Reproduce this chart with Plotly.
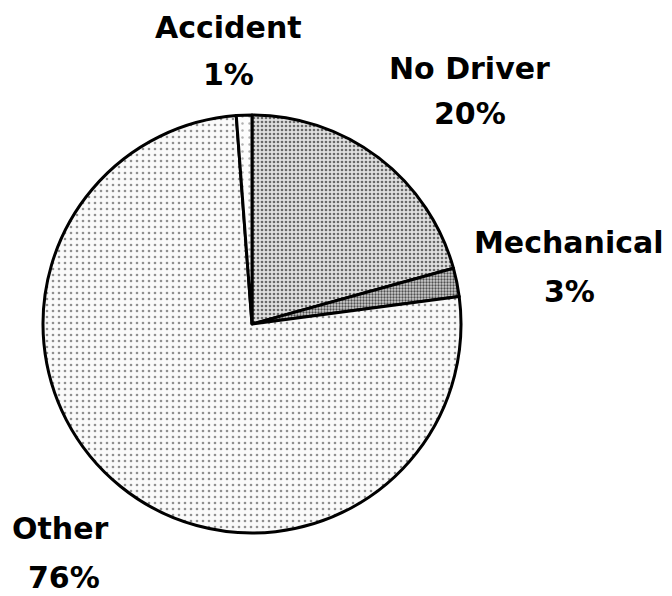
import plotly.graph_objects as go

# Data (clockwise from 12 o'clock)
labels = ["No Driver", "Mechanical", "Other", "Accident"]
values = [20.7, 2.2, 75.9, 1.2]          # slice sizes
pct_text = ["20%", "3%", "76%", "1%"]    # percentages printed on the chart

# the page body has an 8px margin, so the figure is drawn 8px smaller and
# all pixel positions are shifted by that offset
OFF = 8
W, H = 672 - OFF, 596 - OFF
cx, cy, r = 252 - OFF, 324 - OFF, 209

fig = go.Figure(go.Pie(
    labels=labels,
    values=values,
    sort=False,
    direction="clockwise",
    rotation=0,
    textinfo="none",
    hoverinfo="label+percent",
    showlegend=False,
    domain=dict(x=[(cx - r) / W, (cx + r) / W],
                y=[1 - (cy + r) / H, 1 - (cy - r) / H]),
    marker=dict(
        colors=["#ffffff", "#ffffff", "#ffffff", "#ffffff"],
        line=dict(color="#000000", width=3),
        pattern=dict(
            shape=[".", ".", ".", "."],
            fgcolor=["#6a6a6a", "#505050", "#909090", "#b0b0b0"],
            bgcolor=["#e0e0e0", "#cfcfcf", "#fafafa", "#fcfcfc"],
            size=[4, 3, 6, 7],
            solidity=[0.35, 0.45, 0.15, 0.1],
            fillmode="replace",
        ),
    ),
))

# label placement (pixel centres of each text line, in window pixels);
# None for y means: pinned to the top edge of the figure
label_pos = {
    "Accident": ((228, None), (228, 75)),
    "No Driver": ((469, 68), (470, 113.5)),
    "Mechanical": ((569, 242.5), (569.5, 291)),
    "Other": ((61, 528.5), (64, 577.5)),
}

font = dict(family="DejaVu Sans", size=30, color="#000000", weight="bold")
annotations = []
for lab, pct in zip(labels, pct_text):
    (x1, y1), (x2, y2) = label_pos[lab]
    for txt, (x, y) in ((lab, (x1, y1)), (pct, (x2, y2))):
        if y is None:
            yy, ya = 1.0, "top"
        else:
            yy, ya = 1 - (y - OFF) / H, "middle"
        annotations.append(dict(
            text=f"<b>{txt}</b>", x=(x - OFF) / W, y=yy,
            xref="paper", yref="paper",
            xanchor="center", yanchor=ya, showarrow=False, font=font,
        ))

fig.update_layout(
    width=W, height=H,
    margin=dict(l=0, r=0, t=0, b=0),
    paper_bgcolor="#ffffff",
    plot_bgcolor="#ffffff",
    annotations=annotations,
)

fig.write_html("out.html")
